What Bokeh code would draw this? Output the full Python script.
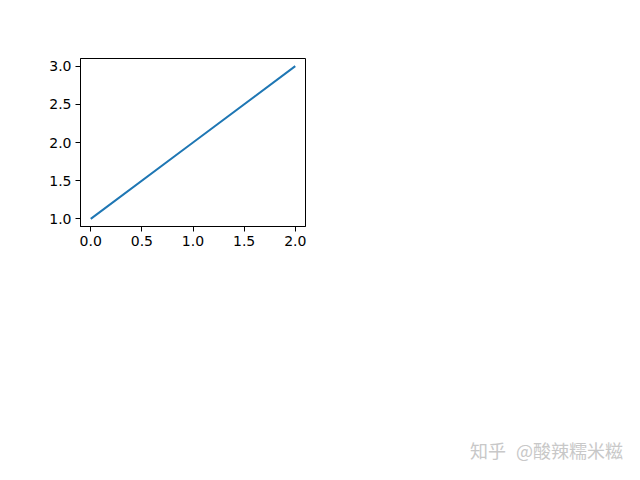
from bokeh.plotting import figure
from bokeh.layouts import column
from bokeh.models import Range1d, FixedTicker, NumeralTickFormatter, Div
from bokeh.embed import file_html
from bokeh.resources import INLINE

x_vals = [0, 1, 2]
y_vals = [1, 2, 3]
x_ticks = [0.0, 0.5, 1.0, 1.5, 2.0]
y_ticks = [1.0, 1.5, 2.0, 2.5, 3.0]
watermark = "知乎 @酸辣糯米糍"

p = figure(width=624, height=430, output_backend="svg", toolbar_location=None,
           x_range=Range1d(-0.1, 2.1), y_range=Range1d(0.9, 3.1),
           min_border_left=80, min_border_top=58, min_border_right=319, min_border_bottom=204)
p.background_fill_color = "white"
p.border_fill_color = "white"
p.outline_line_color = "black"
p.outline_line_width = 1
p.xgrid.visible = False
p.ygrid.visible = False

p.line(x_vals, y_vals, line_color="#1f77b4", line_width=2)

for ax, ticks in ((p.xaxis[0], x_ticks), (p.yaxis[0], y_ticks)):
    ax.ticker = FixedTicker(ticks=ticks)
    ax.formatter = NumeralTickFormatter(format="0.0")
    ax.major_tick_out = 5
    ax.major_tick_in = 0
    ax.minor_tick_out = 0
    ax.minor_tick_in = 0
    ax.major_tick_line_color = "black"
    ax.axis_line_color = "black"
    ax.major_label_text_font = "DejaVu Sans"
    ax.major_label_text_font_size = "14px"
    ax.major_label_text_color = "black"
    ax.major_label_standoff = 4

# watermark strip below the chart (HTML text; plot annotations are clipped to the frame)
wm = Div(text=('<div style="padding:11px 0 0 470px;margin:0;font-family:\'Noto Sans CJK SC\';'
               'font-size:18px;line-height:18px;color:#c8c8c8;white-space:nowrap;word-spacing:6px">'
               + watermark + '</div>'),
         width=624, height=34, margin=0)

layout = column(p, wm, spacing=0)
open("out.html", "w").write(file_html(layout, INLINE))
